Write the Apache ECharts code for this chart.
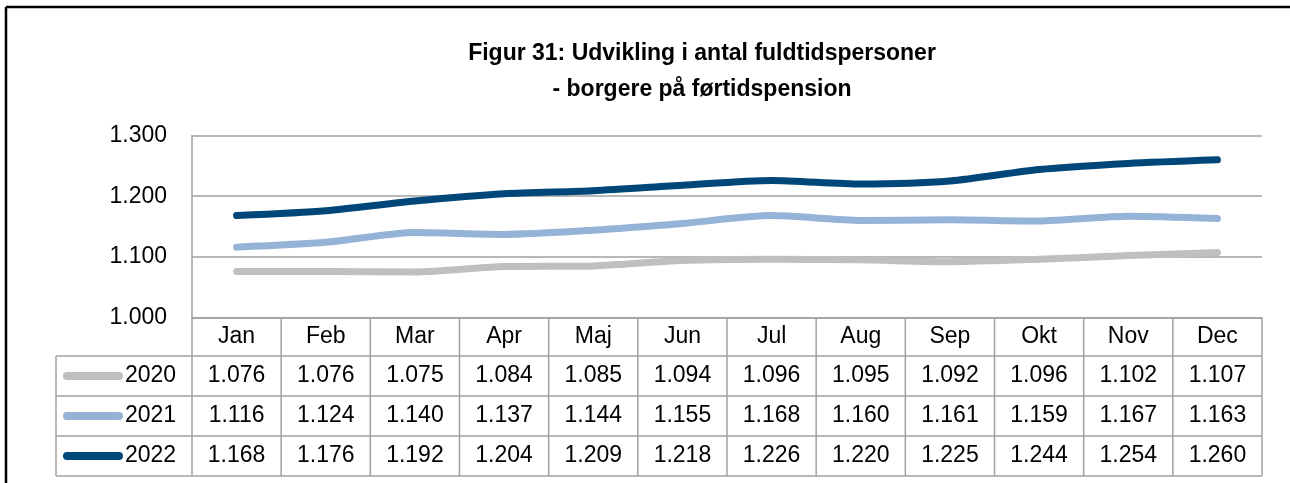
<!DOCTYPE html>
<html><head><meta charset="utf-8">
<script src="https://cdn.jsdelivr.net/npm/echarts@6/dist/echarts.min.js"></script>
<style>html,body{margin:0;padding:0;background:#fff}#c{width:1290px;height:483px}</style>
</head><body><div id="c"></div>
<script>
const months = ['Jan','Feb','Mar','Apr','Maj','Jun','Jul','Aug','Sep','Okt','Nov','Dec'];
const years = ['2020','2021','2022'];
const v2020 = [1076,1076,1075,1084,1085,1094,1096,1095,1092,1096,1102,1107];
const v2021 = [1116,1124,1140,1137,1144,1155,1168,1160,1161,1159,1167,1163];
const v2022 = [1168,1176,1192,1204,1209,1218,1226,1220,1225,1244,1254,1260];
const yMin = 1000, yMax = 1300, yStep = 100;
const colors = ['#BFBFBF','#95B3D7','#004779'];
const seriesVals = [v2020, v2021, v2022];
const FONT = 'Liberation Sans';
const FS = 23;
const fmt = n => (n/1000).toFixed(3);

const chart = echarts.init(document.getElementById('c'), null, {renderer:'canvas'});
const option = {
  animation:false,
  backgroundColor:'#fff',
  title:{
    text:'Figur 31: Udvikling i antal fuldtidspersoner\n- borgere på førtidspension',
    left:697, top:31, textAlign:'center',
    textStyle:{fontFamily:FONT, fontWeight:'bold', fontSize:23, color:'#000', lineHeight:36}
  },
  grid:{left:192, right:28, top:135.5, bottom:483-317.5},
  xAxis:{type:'category', data:months, boundaryGap:true,
    axisLine:{show:true, lineStyle:{color:'#A0A0A0', width:1.5}},
    axisTick:{show:false},
    axisLabel:{fontFamily:FONT, fontSize:FS, color:'#000', margin:8},
    splitLine:{show:false}},
  yAxis:{type:'value', min:yMin, max:yMax, interval:yStep,
    axisLine:{show:true, lineStyle:{color:'#A0A0A0', width:1.5}},
    axisTick:{show:false},
    axisLabel:{fontFamily:FONT, fontSize:FS, color:'#000', margin:25, formatter:v=>fmt(v)},
    splitLine:{show:true, lineStyle:{color:'#A0A0A0', width:1.5}}},
  series: years.map((y,i)=>({
    name:y, type:'line', data:seriesVals[i], smooth:0.25, symbol:'none',
    lineStyle:{color:colors[i], width:7, cap:'round', join:'round'}, z:3+i
  }))
};
chart.setOption(option);

// Build data table from axes
const x0 = chart.convertToPixel({xAxisIndex:0}, 0);
const x1 = chart.convertToPixel({xAxisIndex:0}, 1);
const colW = x1 - x0;
const left = x0 - colW/2;
const right = left + colW*months.length;
const yBase = chart.convertToPixel({yAxisIndex:0}, yMin);
const tableLeft = 56;
const rowTops = [yBase+38.5, yBase+78.5, yBase+118.5];
const rowH = 40;
const g = [];
const lineStyle = {stroke:'#A0A0A0', lineWidth:1.5};
[rowTops[0], rowTops[1], rowTops[2], rowTops[2]+rowH].forEach(y=>{
  g.push({type:'line', shape:{x1:tableLeft, y1:y, x2:right, y2:y}, style:lineStyle, silent:true});
});
g.push({type:'line', shape:{x1:tableLeft, y1:rowTops[0], x2:tableLeft, y2:rowTops[2]+rowH}, style:lineStyle});
for(let k=0;k<=months.length;k++){
  const x = left + k*colW;
  g.push({type:'line', shape:{x1:x, y1:yBase, x2:x, y2:rowTops[2]+rowH}, style:lineStyle});
}
years.forEach((y,i)=>{
  const cy = rowTops[i] + rowH/2;
  g.push({type:'line', shape:{x1:67, y1:cy, x2:119, y2:cy},
    style:{stroke:colors[i], lineWidth:8, lineCap:'round'}});
  g.push({type:'text', style:{text:y, x:125, y:cy, textVerticalAlign:'middle', textAlign:'left',
    font:FS+'px "'+FONT+'"', fill:'#000'}});
  seriesVals[i].forEach((v,j)=>{
    const cx = chart.convertToPixel({xAxisIndex:0}, j);
    g.push({type:'text', style:{text:fmt(v), x:cx, y:cy, textVerticalAlign:'middle', textAlign:'center',
      font:FS+'px "'+FONT+'"', fill:'#000'}});
  });
});
g.push({type:'line', shape:{x1:6, y1:7, x2:1290, y2:7}, style:{stroke:'#000', lineWidth:2.5}});
g.push({type:'line', shape:{x1:6, y1:7, x2:6, y2:483}, style:{stroke:'#000', lineWidth:2.5}});
chart.setOption({graphic:g});
</script></body></html>
